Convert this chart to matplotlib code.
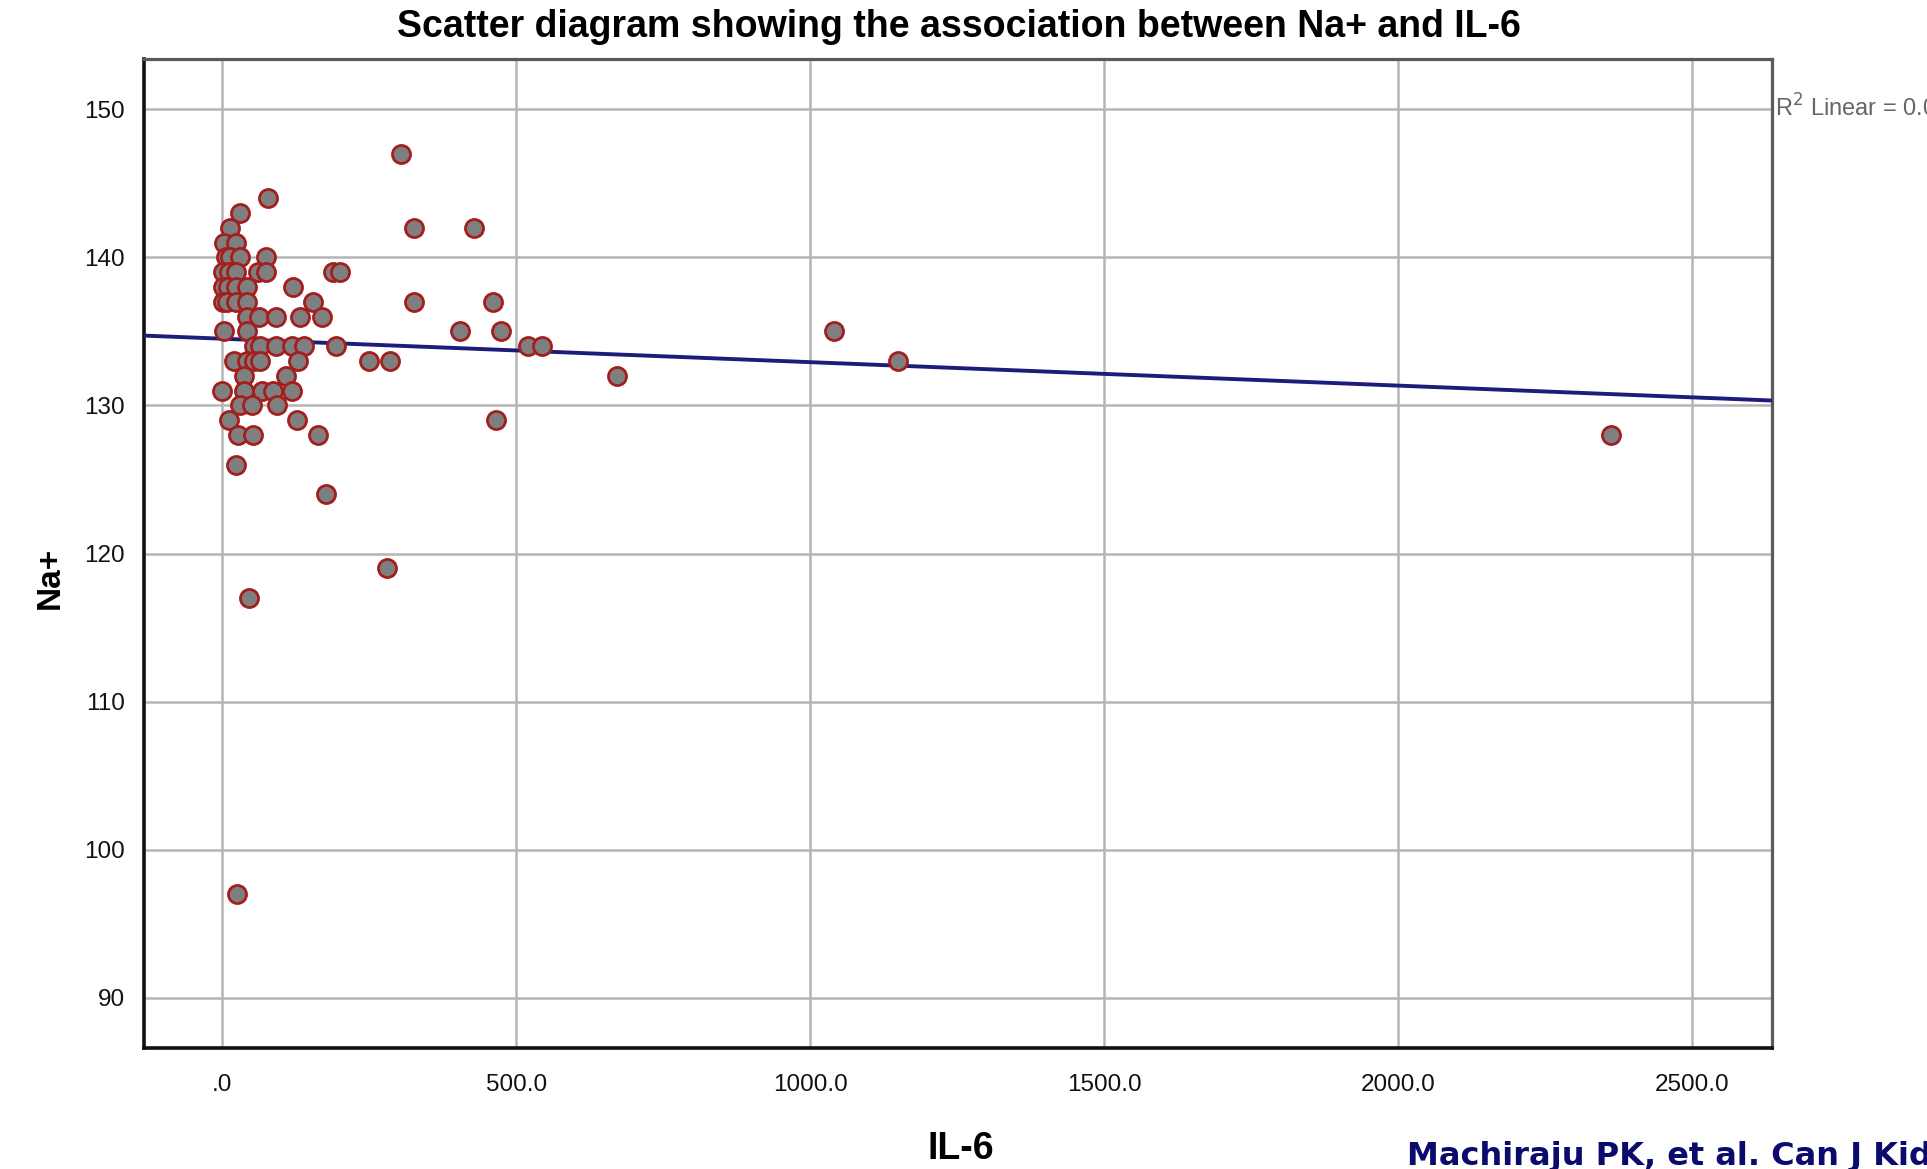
import matplotlib
matplotlib.use("Agg")
import matplotlib.pyplot as plt
import numpy as np

# IL-6 and Na+ values (one pair per patient)
il6 = [304,
       78,
       31,
       13, 326, 428,
       3, 24,
       6, 14, 30, 74,
       2, 12, 23, 61, 74, 189, 201,
       2, 10, 23, 43, 120,
       2, 9, 23, 43, 155, 326, 460,
       43, 62, 91, 133, 170,
       3, 43, 404, 475, 1041,
       54, 65, 91, 119, 140, 193, 521, 544,
       20, 43, 54, 65, 129, 249, 286, 1150,
       37, 108, 671,
       0, 37, 68, 87, 119,
       31, 51, 94,
       11, 128, 465,
       27, 52, 163, 2362,
       24,
       176,
       281,
       46,
       25]
na = [147,
      144,
      143,
      142, 142, 142,
      141, 141,
      140, 140, 140, 140,
      139, 139, 139, 139, 139, 139, 139,
      138, 138, 138, 138, 138,
      137, 137, 137, 137, 137, 137, 137,
      136, 136, 136, 136, 136,
      135, 135, 135, 135, 135,
      134, 134, 134, 134, 134, 134, 134, 134,
      133, 133, 133, 133, 133, 133, 133, 133,
      132, 132, 132,
      131, 131, 131, 131, 131,
      130, 130, 130,
      129, 129, 129,
      128, 128, 128, 128,
      126,
      124,
      119,
      117,
      97]

xticks = [0, 500, 1000, 1500, 2000, 2500]
xticklabels = [".0", "500.0", "1000.0", "1500.0", "2000.0", "2500.0"]
yticks = [90, 100, 110, 120, 130, 140, 150]

plt.rcParams["font.family"] = ["Liberation Sans", "DejaVu Sans"]

fig = plt.figure(figsize=(19.27, 11.69), dpi=100)
ax = fig.add_axes([0.0747, 0.1035, 0.8449, 0.8460])

x = np.array(il6, dtype=float)
y = np.array(na, dtype=float)

# linear fit
slope, intercept = np.polyfit(x, y, 1)
r2 = np.corrcoef(x, y)[0, 1] ** 2
xlim = (-133, 2636)
xs = np.array(xlim)
ax.plot(xs, intercept + slope * xs, color="#1c1c7a", lw=2.8, zorder=3)

ax.plot(x, y, "o", ms=13, mfc="#7f7f7f", mec="#a41e1e", mew=2.0, zorder=4,
        linestyle="none")

ax.set_xlim(*xlim)
ax.set_ylim(86.6, 153.4)
ax.set_xticks(xticks)
ax.set_xticklabels(xticklabels)
ax.set_yticks(yticks)
ax.tick_params(axis="both", length=0, labelsize=17.5, colors="#111111")
ax.tick_params(axis="x", pad=19)
ax.tick_params(axis="y", pad=14)
ax.grid(True, color="#b5b5b5", lw=1.8)
ax.set_axisbelow(True)

for side in ["left", "bottom"]:
    ax.spines[side].set_color("#111111")
    ax.spines[side].set_linewidth(2.6)
for side in ["top", "right"]:
    ax.spines[side].set_color("#5a5a5a")
    ax.spines[side].set_linewidth(2.3)

ax.set_xlabel("IL-6", fontsize=27, fontweight="bold")
ax.xaxis.set_label_coords(0.502, -0.084)
ax.set_ylabel("Na+", fontsize=24, fontweight="bold")
ax.yaxis.set_label_coords(-0.048, 0.475)

fig.text(0.4977, 1 - 27 / 1169, "Scatter diagram showing the association between Na+ and IL-6",
         ha="center", va="center", fontsize=27, fontweight="bold")

fig.text(1775 / 1927, 1 - 108 / 1169, "R$^2$ Linear = %.3f" % r2,
         ha="left", va="center", fontsize=17, color="#666666")

fig.text(1407 / 1927, 1 - 1141 / 1169, "Machiraju PK, et al. Can J Kidney Health Dis",
         ha="left", va="top", fontsize=23, fontweight="bold", color="#0b0b6e",
         family="DejaVu Sans")

fig.savefig("out.png", dpi=100)
plt.close(fig)
